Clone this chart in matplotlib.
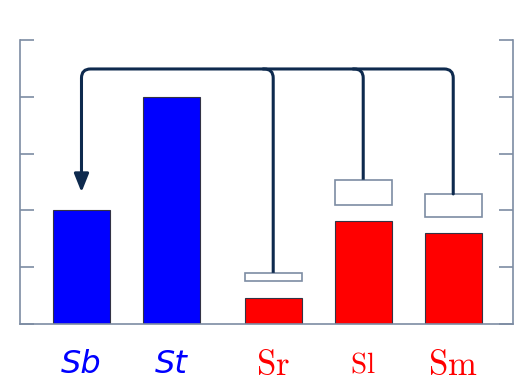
import matplotlib.pyplot as plt
from matplotlib.path import Path
from matplotlib.patches import FancyArrowPatch, PathPatch

plt.rcParams["mathtext.fontset"] = "cm"

labels = ["Sb", "St", "Sr", "Sl", "Sm"]
positions = [0, 1, 2.13, 3.13, 4.13]
heights = [2.0, 4.0, 0.46, 1.81, 1.60]
colors = ["#0000ff", "#0000ff", "#ff0000", "#ff0000", "#ff0000"]
label_sizes = [23, 23, 25, 21, 25]

# hollow boxes above the red bars (bottom, top)
box_x = [2.13, 3.13, 4.13]
box_lo = [0.75, 2.09, 1.89]
box_hi = [0.90, 2.54, 2.29]

bus_y = 4.49
arrow_tip = 2.32
line_col = "#0e2a4e"
spine_col = "#7d8ca3"

fig = plt.figure(figsize=(5.28, 3.81), dpi=100)
ax = fig.add_axes([0.0379, 0.1496, 0.9337, 0.7454])

w = 0.633
ax.bar(positions, heights, width=w, color=colors, edgecolor="#333344", linewidth=0.8, zorder=2)
ax.bar(box_x, [h - l for h, l in zip(box_hi, box_lo)], bottom=box_lo, width=w,
       color="white", edgecolor=spine_col, linewidth=1.2, zorder=2)

rx, ry = 0.1, 0.16
# main connector: from Sm box up, across, down to arrow at Sb
verts = [(box_x[2], box_hi[2]), (box_x[2], bus_y - ry), (box_x[2], bus_y), (box_x[2] - rx, bus_y),
         (positions[0] + rx, bus_y), (positions[0], bus_y), (positions[0], bus_y - ry),
         (positions[0], arrow_tip)]
codes = [Path.MOVETO, Path.LINETO, Path.CURVE3, Path.CURVE3,
         Path.LINETO, Path.CURVE3, Path.CURVE3, Path.LINETO]
arr = FancyArrowPatch(path=Path(verts, codes), arrowstyle="-|>,head_length=0.55,head_width=0.22",
                      mutation_scale=20, color=line_col, linewidth=2.2, zorder=3)
ax.add_patch(arr)

# branches from Sr and Sl boxes
for bx, top in zip(box_x[:2], box_hi[:2]):
    v = [(bx - rx - 0.02, bus_y), (bx - rx, bus_y), (bx, bus_y), (bx, bus_y - ry), (bx, top)]
    c = [Path.MOVETO, Path.LINETO, Path.CURVE3, Path.CURVE3, Path.LINETO]
    ax.add_patch(PathPatch(Path(v, c), fill=False, edgecolor=line_col, linewidth=2.2,
                           capstyle="butt", zorder=3))

ax.set_xlim(-0.683, 4.794)
ax.set_ylim(0, 5)
ax.spines["top"].set_visible(False)
for s in ["left", "right", "bottom"]:
    ax.spines[s].set_color(spine_col)
    ax.spines[s].set_linewidth(1.2)
ax.set_yticks([0, 1, 2, 3, 4, 5])
ax.tick_params(axis="y", direction="in", length=10, width=1.2, color=spine_col,
               left=True, right=True, labelleft=False)
ax.set_xticks([])

for x, lab, col, fs in zip(positions, labels, colors, label_sizes):
    if col == "#0000ff":
        ax.text(x, -0.72, lab, color=col, ha="center", va="center", fontsize=fs,
                fontstyle="italic", family="DejaVu Sans")
    else:
        ax.text(x, -0.72, r"$\mathrm{" + lab + "}$", color=col, ha="center", va="center",
                fontsize=fs)

fig.savefig("out.png", dpi=100)
